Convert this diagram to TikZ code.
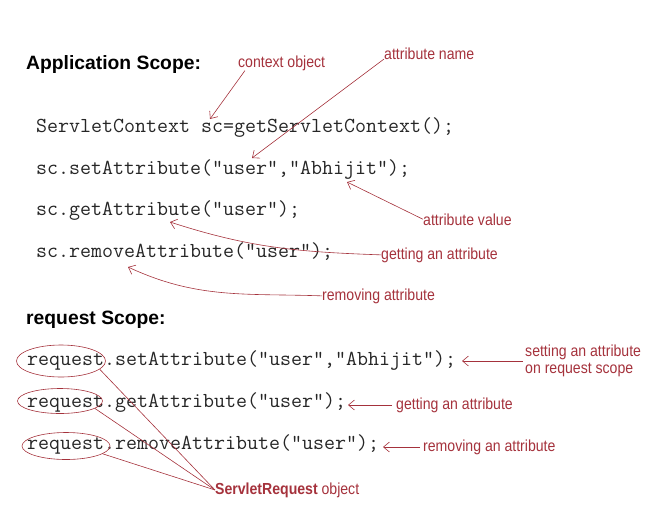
\documentclass[tikz,border=0pt]{standalone}
\usepackage{fontspec}
\usepackage{tikz}
\usetikzlibrary{arrows.meta, positioning, shapes.geometric}
\newfontfamily\headfont{Liberation Sans}
\newfontfamily\notefont[FakeStretch=0.88]{Liberation Sans}
\definecolor{annot}{RGB}{165,50,60}
\tikzset{
        x=1pt, y=-1pt, % one unit is one pixel of the reference
        code/.style={anchor=base west, inner sep=0pt, text=black!85, font=\ttfamily\fontsize{21.35}{22}\selectfont},
        heading/.style={anchor=base west, inner sep=0pt, font=\headfont\bfseries\fontsize{19.3}{21}\selectfont},
        note/.style={inner sep=0pt, text=annot, font=\notefont\fontsize{16}{17}\selectfont},
        annarrow/.style={draw=annot, line width=0.6pt, -{Straight Barb[length=6pt, width=10pt]}}, % thin open arrow heads
        reqring/.style={draw=annot, line width=0.6pt, ellipse, inner sep=0pt},
    }
\begin{document}
\begin{tikzpicture}
    \useasboundingbox (0,0) rectangle (660,530);
    % application scope
    \node[heading] (appscope) at (26,69) {Application Scope:};
    \node[code] (sc1) at (36,132) {ServletContext sc=getServletContext();};
    \node[code] (sc2) at (36,174) {sc.setAttribute("user","Abhijit");};
    \node[code] (sc3) at (36,215) {sc.getAttribute("user");};
    \node[code] (sc4) at (36,257) {sc.removeAttribute("user");};
    \node[note, anchor=base west] (ctxlbl) at (238,67) {context object};
    \node[note, anchor=base west] (atnlbl) at (384,59) {attribute name};
    \node[note, anchor=base west] (atvlbl) at (423,225) {attribute value};
    \node[note, anchor=base west] (getsc) at (381,259) {getting an attribute};
    \node[note, anchor=base west] (remsc) at (322,300) {removing attribute};
    \coordinate (ctxtip) at (210,119);
    \coordinate (atntip) at (252,158);
    \coordinate (atvtip) at (347,182);
    \coordinate (gettip) at (170,222);
    \coordinate (remtip) at (128,267);
    \draw[annarrow] ([xshift=7pt]ctxlbl.south west) -- (ctxtip);
    \draw[annarrow] (atnlbl.base west) -- (atntip);
    \draw[annarrow] (atvlbl.west) -- (atvtip);
    \draw[annarrow] (getsc.west) to[out=178, in=-18] (gettip);
    \draw[annarrow] (remsc.west) to[out=178, in=-25] (remtip);
    % request scope
    \node[heading] (reqscope) at (26,324) {request Scope:};
    \node[code] (rq1) at (27,365) {request.setAttribute("user","Abhijit");};
    \node[code] (rq2) at (27,407) {request.getAttribute("user");};
    \node[code] (rq3) at (27,449) {request.removeAttribute("user");};
    \node[reqring, minimum width=89pt, minimum height=32pt] (req1) at (61,361) {};
    \node[reqring, minimum width=85pt, minimum height=25pt] (req2) at (60,401) {};
    \node[reqring, minimum width=88pt, minimum height=27pt] (req3) at (66,446) {};
    \node[note, anchor=west, align=left] (setrq) at (525,361) {setting an attribute\\on request scope};
    \node[note, anchor=west] (getrq) at (396,405) {getting an attribute};
    \node[note, anchor=west] (remrq) at (423,447) {removing an attribute};
    \node[note, anchor=west] (srlbl) at (215,490) {{\bfseries ServletRequest} object};
    \coordinate (settip) at (462,361);
    \coordinate (getrqtip) at (348,405);
    \coordinate (remrqtip) at (383,447);
    \draw[annarrow] ([xshift=-2pt]setrq.west) -- (settip);
    \draw[annarrow] ([xshift=-4pt]getrq.west) -- (getrqtip);
    \draw[annarrow] ([xshift=-3pt]remrq.west) -- (remrqtip);
    \foreach \r in {req1, req2, req3}
      \draw[draw=annot, line width=0.6pt] (\r.-12) -- (srlbl.west);
\end{tikzpicture}
\end{document}
